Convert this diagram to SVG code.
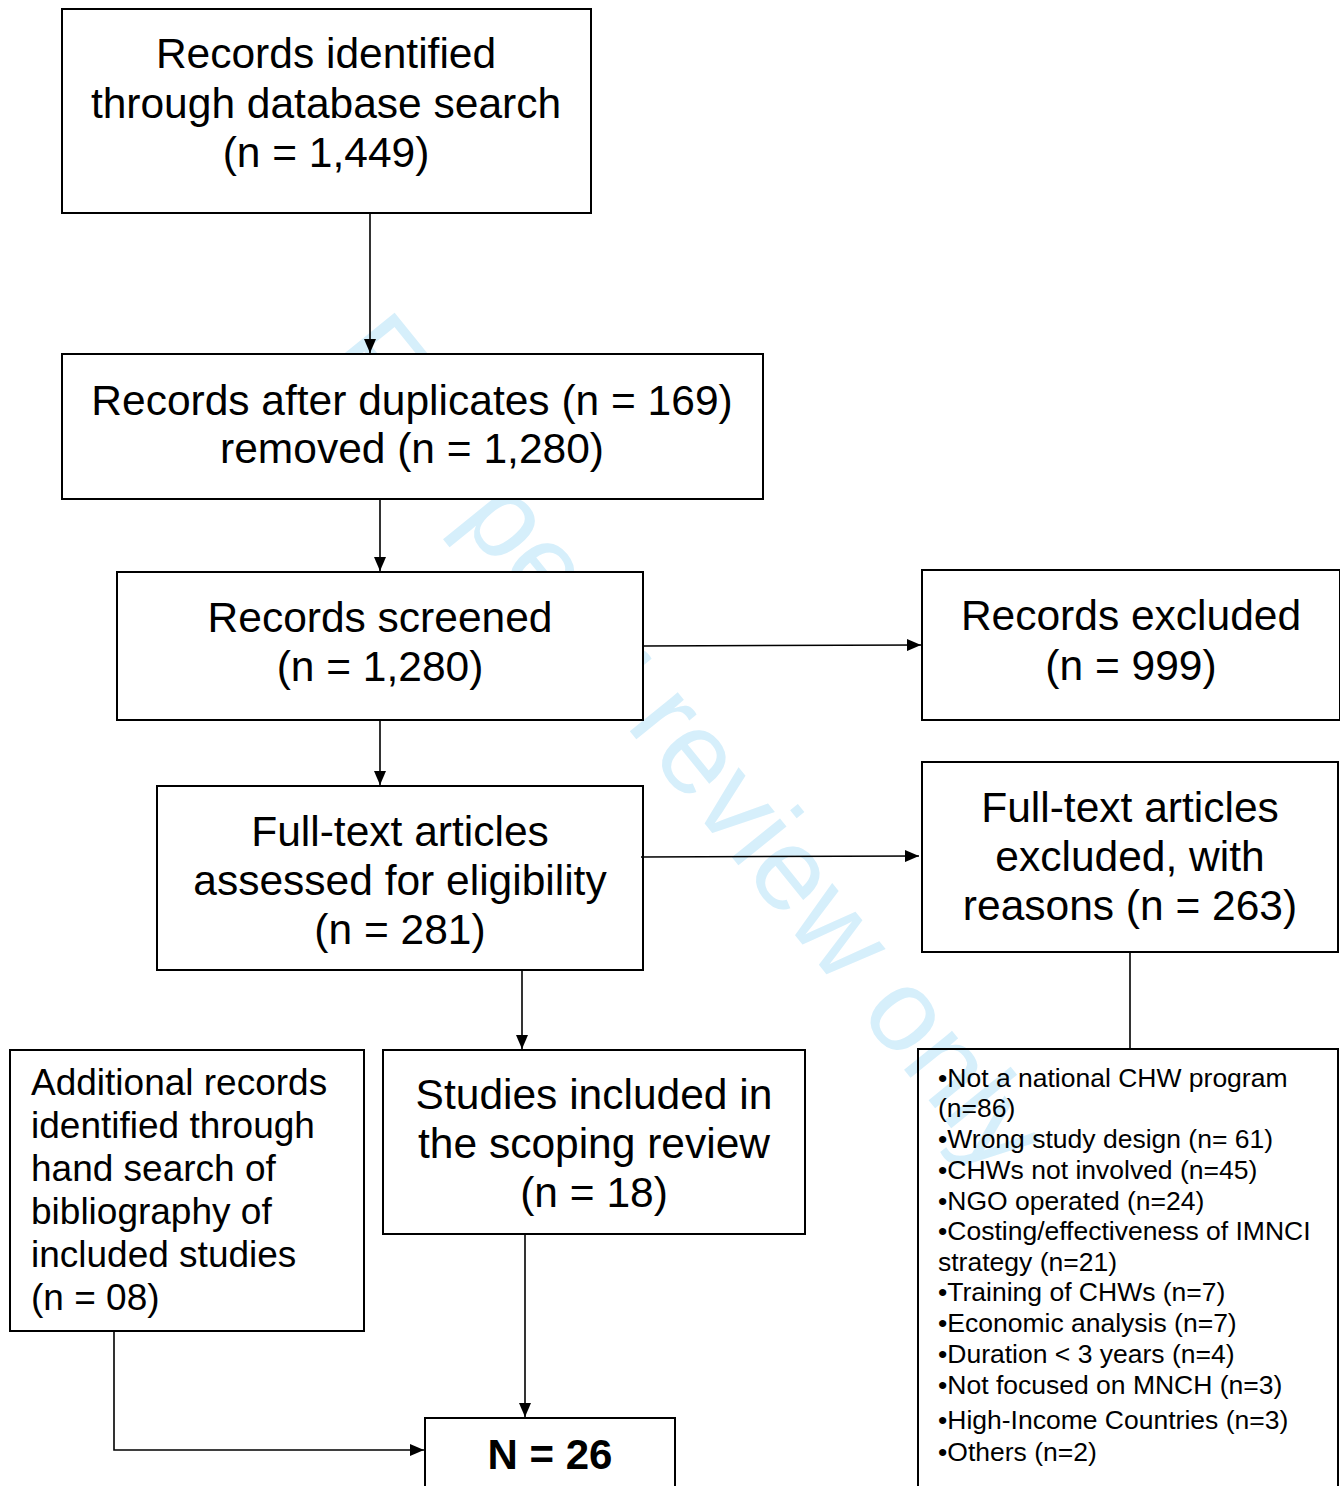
<svg xmlns="http://www.w3.org/2000/svg" width="1340" height="1486" viewBox="0 0 1340 1486">
<style>
.box{fill:#fff;stroke:#000;stroke-width:2}
.open{fill:none;stroke:#000;stroke-width:2}
.t{font-family:"Liberation Sans",Arial,sans-serif;font-size:42.5px;fill:#000;text-anchor:middle}
.l{font-family:"Liberation Sans",Arial,sans-serif;font-size:37px;fill:#000}
.s{font-family:"Liberation Sans",Arial,sans-serif;font-size:26.5px;fill:#000}
.b{font-family:"Liberation Sans",Arial,sans-serif;font-size:42px;font-weight:bold;fill:#000;text-anchor:middle}
.c{fill:none;stroke:#000;stroke-width:1.6}
.wm{font-family:"Liberation Sans",Arial,sans-serif;font-size:117px;fill:#d6effb}
</style>
<defs>
<marker id="ah" viewBox="0 0 14 12" refX="14" refY="6" markerWidth="14" markerHeight="12" markerUnits="userSpaceOnUse" orient="auto">
<path d="M0,0 L14,6 L0,12 z" fill="#000"/>
</marker>
</defs>
<rect width="1340" height="1486" fill="#fff"/>
<text class="wm" transform="translate(326,356) rotate(51)">For peer review only</text>

<g id="n1"><rect class="box" x="62" y="9" width="529" height="204"/>
<text class="t" x="326" y="68">Records identified</text>
<text class="t" x="326" y="118">through database search</text>
<text class="t" x="326" y="167">(n = 1,449)</text></g>

<g id="n2"><rect class="box" x="62" y="354" width="701" height="145"/>
<text class="t" x="412" y="415">Records after duplicates (n = 169)</text>
<text class="t" x="412" y="463">removed (n = 1,280)</text></g>

<g id="n3"><rect class="box" x="117" y="572" width="526" height="148"/>
<text class="t" x="380" y="632">Records screened</text>
<text class="t" x="380" y="681">(n = 1,280)</text></g>

<g id="n4"><rect class="box" x="922" y="570" width="418" height="150"/>
<text class="t" x="1131" y="630">Records excluded</text>
<text class="t" x="1131" y="680">(n = 999)</text></g>

<g id="n5"><rect class="box" x="157" y="786" width="486" height="184"/>
<text class="t" x="400" y="846">Full-text articles</text>
<text class="t" x="400" y="895">assessed for eligibility</text>
<text class="t" x="400" y="944">(n = 281)</text></g>

<g id="n6"><rect class="box" x="922" y="762" width="416" height="190"/>
<text class="t" x="1130" y="822">Full-text articles</text>
<text class="t" x="1130" y="871">excluded, with</text>
<text class="t" x="1130" y="920">reasons (n = 263)</text></g>

<g id="n7"><rect class="box" x="10" y="1050" width="354" height="281"/>
<text class="l" x="31" y="1095">Additional records</text>
<text class="l" x="31" y="1138">identified through</text>
<text class="l" x="31" y="1181">hand search of</text>
<text class="l" x="31" y="1224">bibliography of</text>
<text class="l" x="31" y="1267">included studies</text>
<text class="l" x="31" y="1310">(n = 08)</text></g>

<g id="n8"><rect class="box" x="383" y="1050" width="422" height="184"/>
<text class="t" x="594" y="1109">Studies included in</text>
<text class="t" x="594" y="1158">the scoping review</text>
<text class="t" x="594" y="1207">(n = 18)</text></g>

<g id="n9"><rect class="open" x="918" y="1049" width="420" height="460"/>
<text class="s" x="938" y="1087">•Not a national CHW program</text>
<text class="s" x="938" y="1117">(n=86)</text>
<text class="s" x="938" y="1148">•Wrong study design (n= 61)</text>
<text class="s" x="938" y="1179">•CHWs not involved (n=45)</text>
<text class="s" x="938" y="1210">•NGO operated (n=24)</text>
<text class="s" x="938" y="1240">•Costing/effectiveness of IMNCI</text>
<text class="s" x="938" y="1271">strategy (n=21)</text>
<text class="s" x="938" y="1301">•Training of CHWs (n=7)</text>
<text class="s" x="938" y="1332">•Economic analysis (n=7)</text>
<text class="s" x="938" y="1363">•Duration &lt; 3 years (n=4)</text>
<text class="s" x="938" y="1394">•Not focused on MNCH (n=3)</text>
<text class="s" x="938" y="1429">•High-Income Countries (n=3)</text>
<text class="s" x="938" y="1461">•Others (n=2)</text></g>

<g id="n10"><rect class="box" x="425" y="1418" width="250" height="90"/>
<text class="b" x="550" y="1469">N = 26</text></g>

<g id="connectors">
<line class="c" x1="370" y1="213" x2="370" y2="353" marker-end="url(#ah)"/>
<line class="c" x1="380" y1="499" x2="380" y2="571" marker-end="url(#ah)"/>
<line class="c" x1="380" y1="720" x2="380" y2="785" marker-end="url(#ah)"/>
<line class="c" x1="643" y1="646" x2="921" y2="645" marker-end="url(#ah)"/>
<line class="c" x1="641" y1="857" x2="919" y2="856" marker-end="url(#ah)"/>
<line class="c" x1="522" y1="970" x2="522" y2="1049" marker-end="url(#ah)"/>
<line class="c" x1="1130" y1="952" x2="1130" y2="1049"/>
<line class="c" x1="525" y1="1234" x2="525" y2="1417" marker-end="url(#ah)"/>
<polyline class="c" points="114,1331 114,1450 424,1450" marker-end="url(#ah)"/>
</g>
</svg>
